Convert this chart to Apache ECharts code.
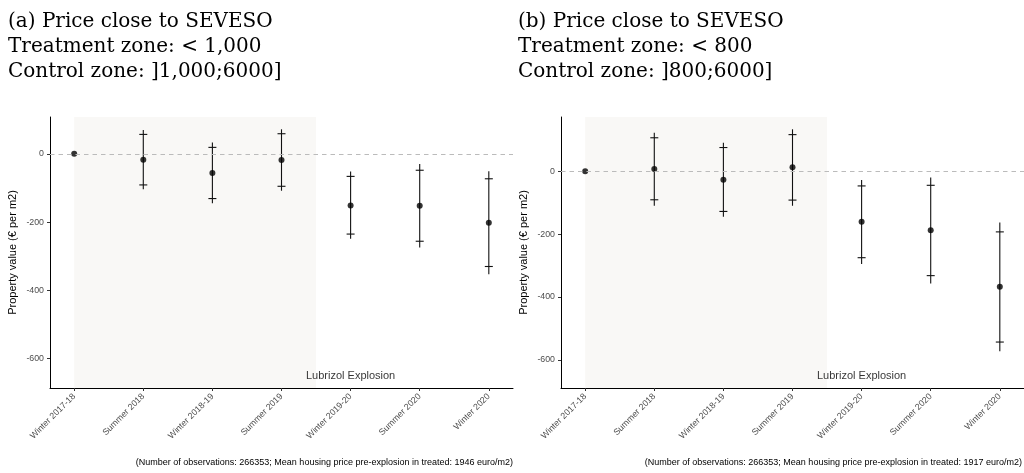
<!DOCTYPE html>
<html>
<head>
<meta charset="utf-8">
<script src="https://cdn.jsdelivr.net/npm/echarts@6/dist/echarts.min.js"></script>
<style>
html,body{margin:0;padding:0;background:#fff;}
#chart{width:1024px;height:473px;}
</style>
</head>
<body>
<div id="chart"></div>
<script>
// ---------- data ----------
const categories = ['Winter 2017-18','Summer 2018','Winter 2018-19','Summer 2019','Winter 2019-20','Summer 2020','Winter 2020'];
const yTicks = [-600, -400, -200, 0];

const titleA = ['(a) Price close to SEVESO', 'Treatment zone: < 1,000', 'Control zone: ]1,000;6000]'];
const titleB = ['(b) Price close to SEVESO', 'Treatment zone: < 800', 'Control zone: ]800;6000]'];
const noteA = '(Number of observations: 266353; Mean housing price pre-explosion in treated: 1946 euro/m2)';
const noteB = '(Number of observations: 266353; Mean housing price pre-explosion in treated: 1917 euro/m2)';
const yTitle = 'Property value (€ per m2)';
const eventLabel = 'Lubrizol Explosion';
const eventPos = [4, -650];
const shadeRange = [0, 3.5];

// panel (a)
const estA  = [0, -17, -56, -18, -151, -152, -202];
const lo95A = [null, -104, -145, -108, -249, -274, -353];
const hi95A = [null, 70, 33, 72, -52, -30, -51];
const lo90A = [null, -91, -131, -95, -235, -256, -330];
const hi90A = [null, 57, 19, 59, -66, -48, -73];

// panel (b)
const estB  = [0, 7, -27, 12, -161, -188, -367];
const lo95B = [null, -110, -145, -110, -295, -357, -572];
const hi95B = [null, 122, 90, 133, -28, -20, -163];
const lo90B = [null, -91, -128, -92, -275, -332, -543];
const hi90B = [null, 106, 75, 116, -47, -45, -193];

// ---------- chart ----------
const chart = echarts.init(document.getElementById('chart'), null, {renderer: 'canvas'});
const FONT = 'Liberation Sans';
const idx = categories.map((c, i) => i);

function errData(lo95, hi95, lo90, hi90) {
  return idx.map(i => [i, lo95[i], hi95[i], lo90[i], hi90[i]]).filter(d => d[1] != null);
}
function renderErr(params, api) {
  const x = api.value(0);
  const top = api.coord([x, api.value(2)]);
  const bot = api.coord([x, api.value(1)]);
  const c1 = api.coord([x, api.value(4)]);
  const c2 = api.coord([x, api.value(3)]);
  const hw = 4;
  const st = {stroke: '#111', lineWidth: 1.1};
  return {type: 'group', children: [
    {type: 'line', shape: {x1: top[0], y1: top[1], x2: bot[0], y2: bot[1]}, style: st},
    {type: 'line', shape: {x1: c1[0] - hw, y1: c1[1], x2: c1[0] + hw, y2: c1[1]}, style: st},
    {type: 'line', shape: {x1: c2[0] - hw, y1: c2[1], x2: c2[0] + hw, y2: c2[1]}, style: st}
  ]};
}
function renderShade(params, api) {
  const cs = params.coordSys;
  const a = api.coord([api.value(0), 0]);
  const b = api.coord([api.value(1), 0]);
  return {type: 'rect', shape: {x: a[0], y: cs.y, width: b[0] - a[0], height: cs.height},
          style: {fill: '#f9f8f6'}};
}

const panels = [
  {est: estA, lo95: lo95A, hi95: hi95A, lo90: lo90A, hi90: hi90A, ymin: -686, ymax: 108},
  {est: estB, lo95: lo95B, hi95: hi95B, lo90: lo90B, hi90: hi90B, ymin: -689, ymax: 172}
];

const grids = [
  {left: 50, width: 463, top: 117, bottom: 85},
  {left: 561, width: 463, top: 117, bottom: 85}
];

const xAxes = [], yAxes = [], series = [];
panels.forEach((p, g) => {
  xAxes.push({
    type: 'value', gridIndex: g, min: -0.35, max: 6.35,
    axisLine: {show: true, onZero: false, lineStyle: {color: '#000', width: 1}},
    axisTick: {show: true, length: 3, customValues: idx, lineStyle: {color: '#333'}},
    axisLabel: {customValues: idx, formatter: v => categories[Math.round(v)], rotate: 45,
                color: '#4d4d4d', fontSize: 8.8, fontFamily: FONT, margin: 7},
    splitLine: {show: false}
  });
  yAxes.push({
    type: 'value', gridIndex: g, min: p.ymin, max: p.ymax,
    name: yTitle, nameLocation: 'middle', nameGap: 32, nameRotate: 90,
    nameTextStyle: {color: '#000', fontSize: 11, fontFamily: FONT},
    axisLine: {show: true, onZero: false, lineStyle: {color: '#000', width: 1}},
    axisTick: {show: true, length: 3, customValues: yTicks, lineStyle: {color: '#333'}},
    axisLabel: {customValues: yTicks, color: '#4d4d4d', fontSize: 8.8, fontFamily: FONT, margin: 6},
    splitLine: {show: false}
  });
  series.push({
    type: 'custom', xAxisIndex: g, yAxisIndex: g, z: 1, silent: true,
    renderItem: renderShade, data: [shadeRange]
  });
  series.push({
    type: 'custom', xAxisIndex: g, yAxisIndex: g, z: 2, silent: true,
    renderItem: renderErr, data: errData(p.lo95, p.hi95, p.lo90, p.hi90),
    markLine: {silent: true, symbol: 'none', label: {show: false},
      lineStyle: {color: '#bbbbbb', type: [4.5, 4], width: 1.2},
      data: [{yAxis: 0}]}
  });
  series.push({
    type: 'scatter', xAxisIndex: g, yAxisIndex: g, z: 3, silent: true,
    symbolSize: 6, itemStyle: {color: '#000'},
    data: idx.map(i => [i, p.est[i]])
  });
  series.push({
    type: 'scatter', xAxisIndex: g, yAxisIndex: g, z: 4, silent: true,
    symbolSize: 0,
    label: {show: true, position: 'inside', formatter: eventLabel,
            color: '#000', fontSize: 11, fontFamily: FONT},
    data: [eventPos]
  });
});

const titleStyle = {fontFamily: 'DejaVu Serif', fontSize: 20, fontWeight: 'normal', color: '#000', lineHeight: 25};

chart.setOption({
  animation: false,
  backgroundColor: '#fff',
  title: [
    {text: titleA.join('\n'), left: 8, top: 9, padding: 0, textStyle: titleStyle},
    {text: titleB.join('\n'), left: 518, top: 9, padding: 0, textStyle: titleStyle}
  ],
  grid: grids,
  xAxis: xAxes,
  yAxis: yAxes,
  series: series,
  graphic: [
    {type: 'text', right: 511, top: 458, style: {text: noteA, fill: '#000', font: '9px "Liberation Sans"', textAlign: 'right'}},
    {type: 'text', right: 2, top: 458, style: {text: noteB, fill: '#000', font: '9px "Liberation Sans"', textAlign: 'right'}}
  ]
});
</script>
</body>
</html>
